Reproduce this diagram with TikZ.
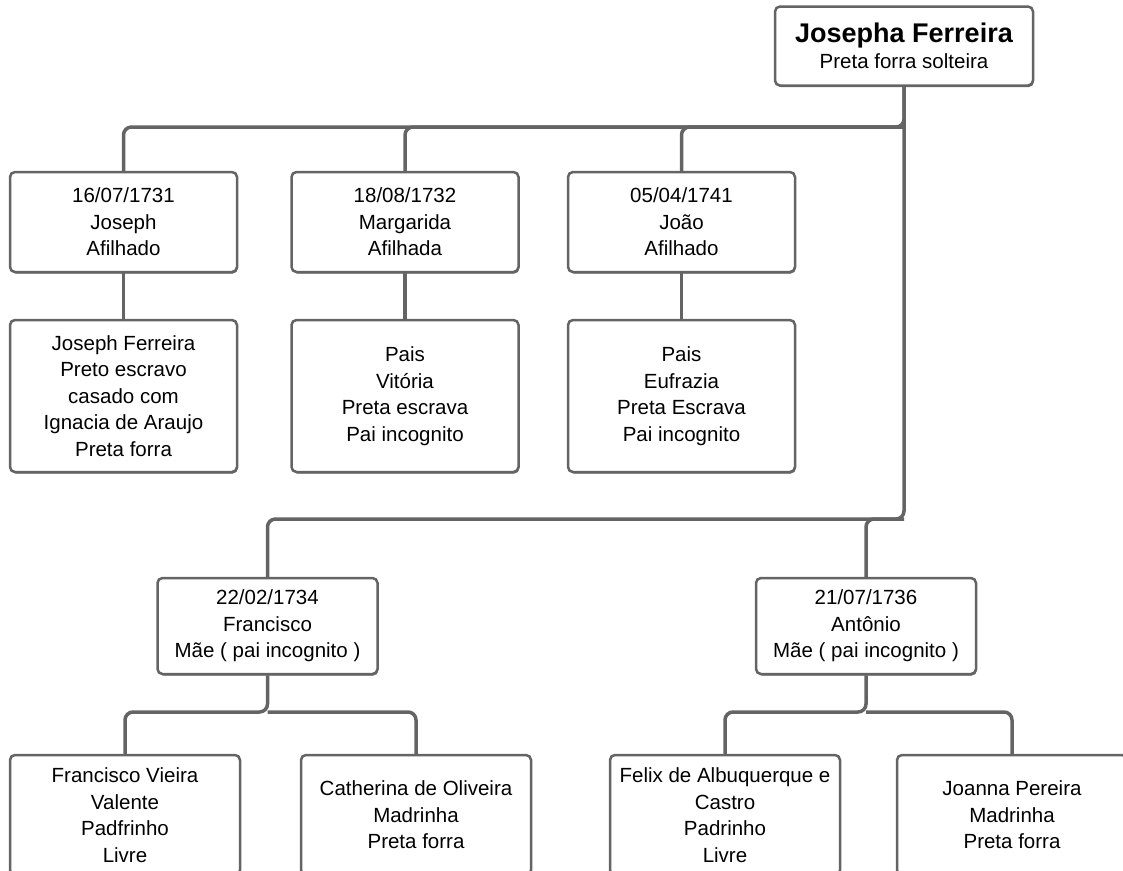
\documentclass[tikz,border=0pt]{standalone}
\usepackage{fontspec}
\setmainfont{Liberation Sans}
\usetikzlibrary{positioning,shadows}
\definecolor{linegray}{RGB}{100,100,100}
\tikzstyle{person} = [rectangle, rounded corners=5pt, draw=linegray, line width=2.5pt, fill=white, align=center, inner sep=0pt, font=\fontsize{20.5}{26.5}\selectfont, drop shadow={shadow xshift=0.8pt, shadow yshift=-1.5pt, opacity=1, fill=linegray}]
\tikzstyle{dated} = [person, minimum width=227pt, minimum height=100pt]
\tikzstyle{parents} = [person, minimum width=227pt, minimum height=152pt]
\tikzstyle{child} = [person, minimum width=220pt, minimum height=96pt]
\tikzstyle{godparent} = [person, minimum width=230pt, minimum height=120pt]
\tikzstyle{tie} = [draw=linegray, line width=3.5pt, rounded corners=8pt]

\begin{document}
\begin{tikzpicture}[x=1pt, y=-1pt]
\useasboundingbox (0,0) rectangle (1123,870);
\clip (0,0) rectangle (1123,870);

\coordinate (topbus) at (904,127);
\coordinate (midbus) at (904,519);
\coordinate (fbus) at (267.5,712);
\coordinate (abus) at (866,712);

\node (josepha) [person, minimum width=258pt, minimum height=79pt] at (904,46) {{\fontsize{27}{33}\selectfont\bfseries Josepha Ferreira}\\Preta forra solteira};

\node (joseph) [dated] at (123.5,222) {16/07/1731\\Joseph\\Afilhado};
\node (margarida) [dated] at (405,222) {18/08/1732\\Margarida\\Afilhada};
\node (joao) [dated] at (681.5,222) {05/04/1741\\João\\Afilhado};

\node (pjoseph) [parents] at (123.5,396) {Joseph Ferreira\\Preto escravo\\casado com\\Ignacia de Araujo\\Preta forra};
\node (pmargarida) [parents] at (405,396) {Pais\\Vitória\\Preta escrava\\Pai incognito};
\node (pjoao) [parents] at (681.5,396) {Pais\\Eufrazia\\Preta Escrava\\Pai incognito};

\node (francisco) [child] at (267.5,626) {22/02/1734\\Francisco\\Mãe ( pai incognito )};
\node (antonio) [child] at (866,626) {21/07/1736\\Antônio\\Mãe ( pai incognito )};

\node (vieira) [godparent] at (125,815) {Francisco Vieira\\Valente\\Padfrinho\\Livre};
\node (catherina) [godparent] at (416,815) {Catherina de Oliveira\\Madrinha\\Preta forra};
\node (felix) [godparent] at (725,815) {Felix de Albuquerque e\\Castro\\Padrinho\\Livre};
\node (joanna) [godparent] at (1012,815) {Joanna Pereira\\Madrinha\\Preta forra};

\begin{scope}[on background layer/.try]
\draw [tie] (josepha.south) -- (topbus) -| (joseph.north);
\draw [tie] (topbus) -| (margarida.north);
\draw [tie] (topbus) -| (joao.north);
\draw [tie] (josepha.south) -- (midbus) -| (francisco.north);
\draw [tie] (midbus) -| (antonio.north);
\draw [tie] (joseph) -- (pjoseph);
\draw [tie] (margarida) -- (pmargarida);
\draw [tie] (joao) -- (pjoao);
\draw [tie] (francisco.south) -- (fbus) -| (vieira.north);
\draw [tie] (fbus) -| (catherina.north);
\draw [tie] (antonio.south) -- (abus) -| (felix.north);
\draw [tie] (abus) -| (joanna.north);
\end{scope}

\end{tikzpicture}
\end{document}
